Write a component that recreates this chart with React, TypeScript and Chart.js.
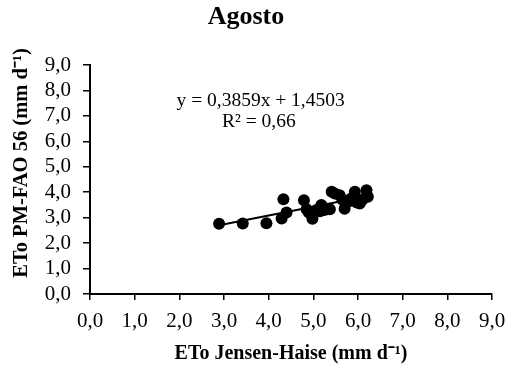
import React, { useEffect, useRef } from "react";
import { Chart, registerables } from "chart.js";

Chart.register(...registerables);

// ---- data ----
const jensenHaise = [
  2.89, 3.42, 3.95, 4.29, 4.33, 4.40, 4.79, 4.85, 4.90, 4.98,
  5.07, 5.15, 5.18, 5.25, 5.37, 5.41, 5.48, 5.59, 5.65, 5.70,
  5.78, 5.85, 5.93, 5.97, 6.04, 6.10, 6.19, 6.22,
];
const pmFao56 = [
  2.76, 2.77, 2.78, 2.97, 3.72, 3.20, 3.68, 3.33, 3.20, 2.96,
  3.30, 3.25, 3.50, 3.30, 3.33, 4.02, 3.95, 3.88, 3.70, 3.35,
  3.63, 3.75, 4.02, 3.60, 3.56, 3.70, 4.08, 3.82,
];
const trendX = [2.89, 6.22];
const trendY = [2.70, 3.85];
const tickValues = [0, 1, 2, 3, 4, 5, 6, 7, 8, 9];

const chartTitle = "Agosto";
const xAxisTitle = "ETo Jensen-Haise (mm d\u207B\u00B9)";
const yAxisTitle = "ETo PM-FAO 56 (mm d\u207B\u00B9)";
const equationLine = "y = 0,3859x + 1,4503";
const r2Line = "R\u00B2 = 0,66";

const SERIF = "'Liberation Serif', 'Times New Roman', serif";

const fmt = (v: number) => v.toFixed(1).replace(".", ",");

export default function App() {
  const ref = useRef<HTMLCanvasElement | null>(null);

  useEffect(() => {
    if (!ref.current) return;
    const textPlugin = {
      id: "textOverlay",
      afterDraw(chart: any) {
        const ctx = chart.ctx;
        const xs = chart.scales.x;
        const ys = chart.scales.y;
        ctx.save();
        ctx.fillStyle = "#000";
        ctx.textAlign = "center";
        ctx.textBaseline = "middle";
        ctx.font = `19.5px ${SERIF}`;
        ctx.fillText(equationLine, xs.getPixelForValue(3.82), ys.getPixelForValue(7.58));
        ctx.fillText(r2Line, xs.getPixelForValue(3.78), ys.getPixelForValue(6.75));
        // y axis title
        ctx.font = `bold 20.5px ${SERIF}`;
        ctx.translate(22, ys.getPixelForValue(5.15));
        ctx.rotate(-Math.PI / 2);
        ctx.fillText(yAxisTitle, 0, 0);
        ctx.restore();
      },
    };

    const chart = new Chart(ref.current, {
      type: "scatter",
      data: {
        datasets: [
          {
            type: "scatter",
            data: jensenHaise.map((x, i) => ({ x, y: pmFao56[i] })),
            backgroundColor: "#000",
            borderColor: "#000",
            pointRadius: 6,
            pointBorderWidth: 0,
            order: 0,
          },
          {
            type: "line",
            data: trendX.map((x, i) => ({ x, y: trendY[i] })),
            borderColor: "#000",
            borderWidth: 2,
            pointRadius: 0,
            fill: false,
            order: 1,
          } as any,
        ],
      },
      options: {
        responsive: false,
        animation: false,
        layout: { padding: { left: 0, right: 26, top: 0, bottom: 0 } },
        plugins: {
          legend: { display: false },
          tooltip: { enabled: false },
          title: {
            display: true,
            text: chartTitle,
            color: "#000",
            font: { family: SERIF, size: 26, weight: "bold" },
            padding: { top: 2, bottom: 31.8 },
          },
        },
        scales: {
          x: {
            type: "linear",
            min: 0,
            max: 9,
            afterBuildTicks: (s: any) => {
              s.ticks = tickValues.map((v) => ({ value: v }));
            },
            afterFit: (s: any) => {
              s.height = 75;
            },
            ticks: {
              color: "#000",
              font: { family: SERIF, size: 21 },
              padding: 9,
              maxRotation: 0,
              autoSkip: false,
              callback: (v: any) => fmt(Number(v)),
            },
            grid: {
              display: true,
              drawOnChartArea: false,
              drawTicks: true,
              tickLength: 6,
              color: "#000",
              lineWidth: 1.5,
            },
            border: { display: true, color: "#000", width: 2 },
            title: {
              display: true,
              text: xAxisTitle,
              color: "#000",
              font: { family: SERIF, size: 20, weight: "bold" },
              padding: { top: 2, bottom: 3 },
            },
          },
          y: {
            type: "linear",
            min: 0,
            max: 9,
            afterBuildTicks: (s: any) => {
              s.ticks = tickValues.map((v) => ({ value: v }));
            },
            afterFit: (s: any) => {
              s.width = 90;
            },
            ticks: {
              color: "#000",
              font: { family: SERIF, size: 21 },
              padding: 12,
              autoSkip: false,
              callback: (v: any) => fmt(Number(v)),
            },
            grid: {
              display: true,
              drawOnChartArea: false,
              drawTicks: true,
              tickLength: 7,
              color: "#000",
              lineWidth: 1.5,
            },
            border: { display: true, color: "#000", width: 2 },
            title: { display: false },
          },
        },
      },
      plugins: [textPlugin],
    });
    return () => chart.destroy();
  }, []);

  return (
    <div style={{ position: "absolute", left: 0, top: 0, width: 518, height: 369, background: "#fff" }}>
      <canvas ref={ref} width={518} height={369} style={{ display: "block" }} />
    </div>
  );
}
